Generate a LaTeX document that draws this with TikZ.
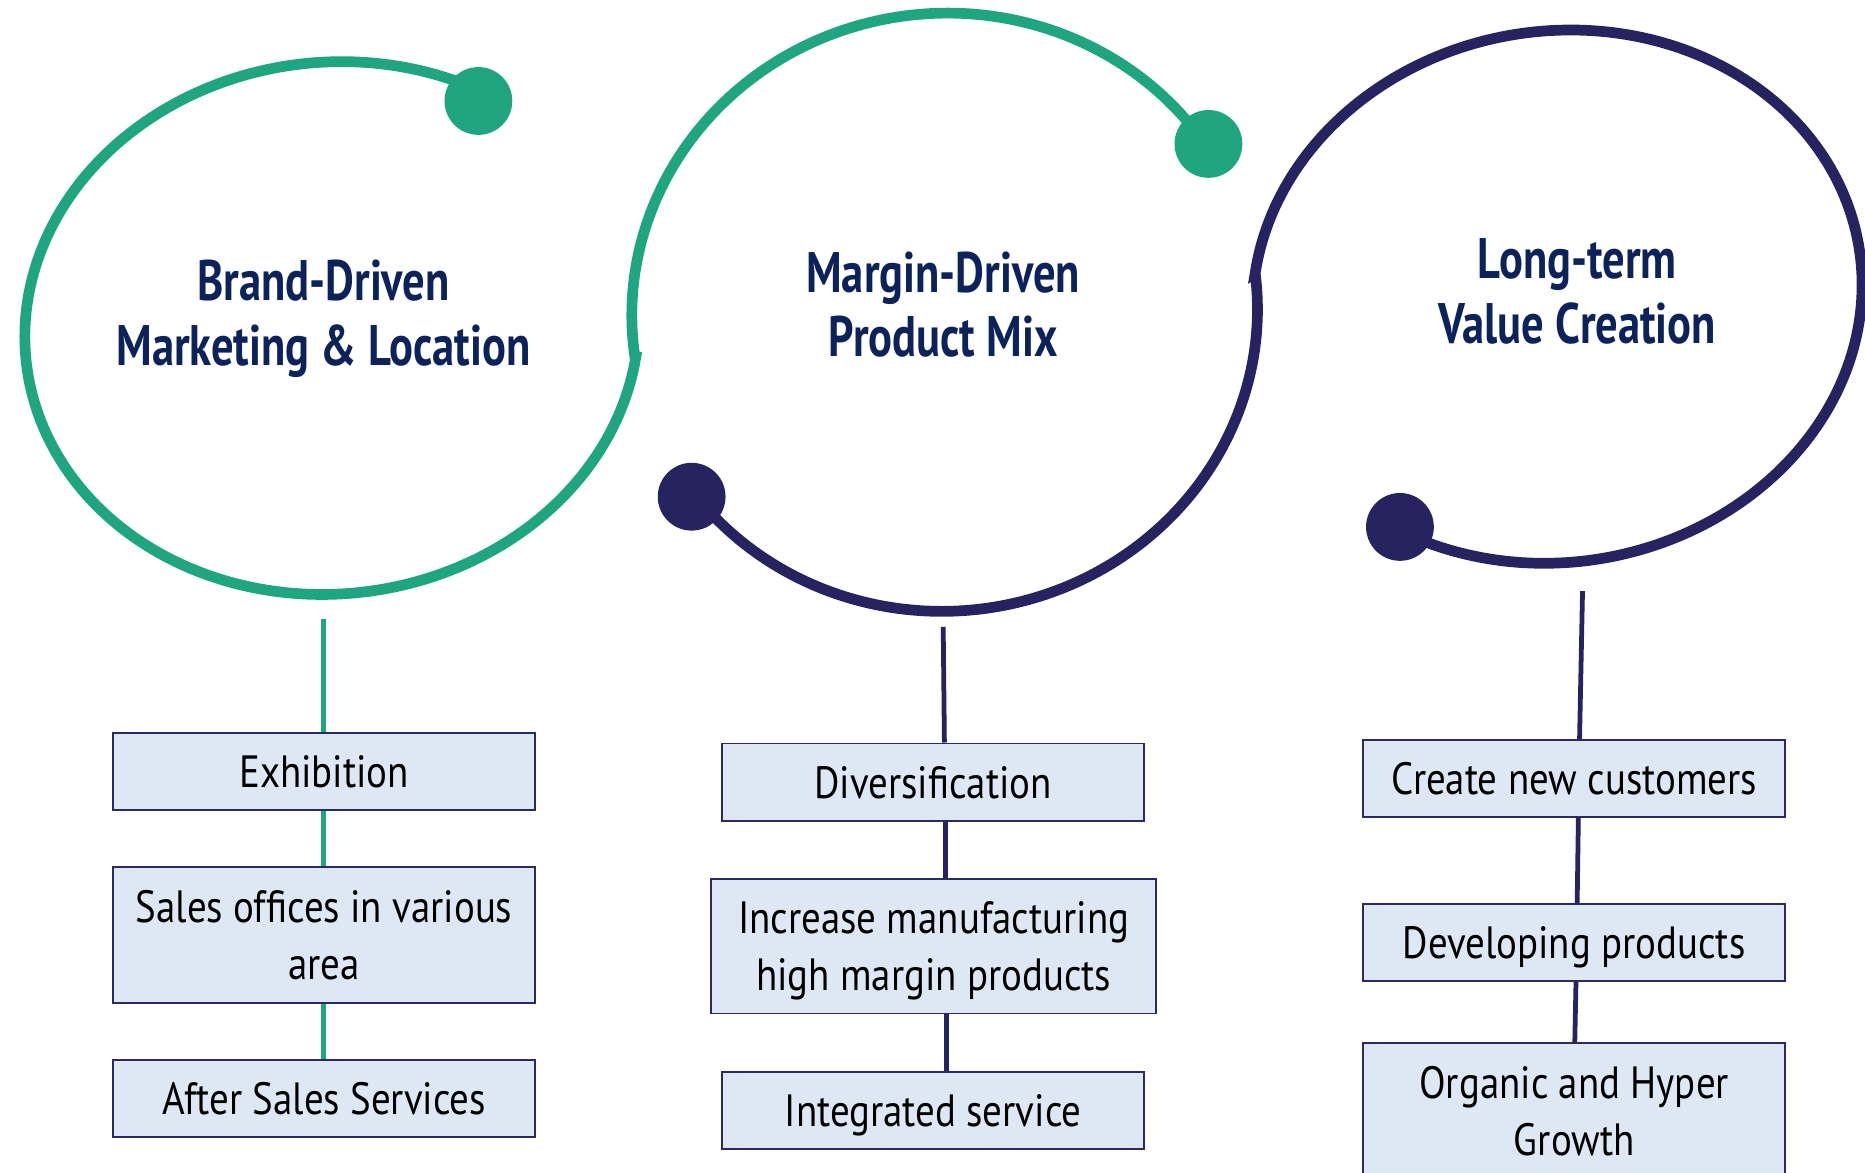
\documentclass[tikz,border=0pt]{standalone}
\usepackage{fontspec}
\setmainfont{PT Sans}[FakeStretch=0.86]
\newfontfamily\titlefont{PT Sans}[FakeStretch=0.78]
\definecolor{grn}{RGB}{31,165,128}
\definecolor{nvy}{RGB}{39,34,96}
\definecolor{ttl}{RGB}{12,34,90}
\definecolor{boxfill}{RGB}{222,232,245}
\definecolor{boxline}{RGB}{42,42,100}
\begin{document}
\begin{tikzpicture}[x=1pt,y=1pt,
  ring/.style={line width=9pt, line join=miter},
  blob/.style={radius=28.5pt},
  box/.style={draw=boxline, line width=1.5pt, fill=boxfill, minimum width=355pt,
    minimum height=65pt, align=center, inner sep=0pt, text=black, text depth=0pt,
    font=\fontsize{38}{48}\selectfont},
  title/.style={align=center, text=ttl, font=\titlefont\bfseries\fontsize{48}{54}\selectfont},
  link/.style={line width=4pt}]
\useasboundingbox (0,0) rectangle (1568,-986);
\clip (0,0) rectangle (1568,-986);
% green ring: circle 1 (most of it) then top of circle 2
\draw[ring,grn]
  plot[domain=60:353.8, samples=170, variable=\t]
    ({279+258*cos(\t)+8.29*sin(\t)}, {-275.8+224*sin(\t)})
  -- plot[domain=188.55:34.2, samples=170, variable=\t]
    ({794.2+263*cos(\t)+2.515*sin(\t)}, {-262.5+251.5*sin(\t)});
% navy ring: bottom of circle 2 then circle 3
\draw[ring,nvy]
  plot[domain=218:367.47, samples=170, variable=\t]
    ({794.2+263*cos(\t)+2.515*sin(\t)}, {-262.5+251.5*sin(\t)})
  -- plot[domain=174.99:-121, samples=220, variable=\t]
    ({1309.3+256*cos(\t)+11.21*sin(\t)}, {-249.4+224.2*sin(\t)});
% end dots
\fill[grn] (402.2,-84.9) coordinate (g1) circle[blob];
\fill[grn] (1016,-121) coordinate (g2) circle[blob];
\fill[nvy] (581.5,-417.6) coordinate (n1) circle[blob];
\fill[nvy] (1177,-443) coordinate (n2) circle[blob];
% titles
\node[title] (h1) at (272,-268) {Brand-Driven\\Marketing \& Location};
\node[title] (h2) at (793,-256) {Margin-Driven\\Product Mix};
\node[title] (h3) at (1326,-245) {Long-term\\Value Creation};
% boxes
\node[box] (b11) at (272.5,-648.5) {Exhibition};
\node[box, minimum height=114pt] (b12) at (272.5,-786) {Sales offices in various\\area};
\node[box] (b13) at (272.5,-923.5) {After Sales Services};
\node[box] (b21) at (784.5,-657.5) {Diversification};
\node[box, minimum width=374pt, minimum height=113pt] (b22) at (785,-795.5) {Increase manufacturing\\high margin products};
\node[box] (b23) at (784.5,-933.5) {Integrated service};
\node[box] (b31) at (1323.5,-654.5) {Create new customers};
\node[box] (b32) at (1323.5,-792.5) {Developing products};
\node[box, minimum height=114pt] (b33) at (1323.5,-934) {Organic and Hyper\\Growth};
% connectors
\coordinate (t1) at (272,-520);
\coordinate (t2) at (793,-527);
\coordinate (t3) at (1330.5,-497);
\draw[link,grn] (t1) -- (t1 |- b11.north);
\draw[link,grn] (b11.south -| t1) -- (b12.north -| t1);
\draw[link,grn] (b12.south -| t1) -- (b13.north -| t1);
\draw[link,nvy] (t2) -- ([xshift=1pt]t2 |- b21.north);
\draw[link,nvy] ([xshift=2pt]b21.south -| t2) -- ([xshift=2pt]b22.north -| t2);
\draw[link,nvy] ([xshift=3pt]b22.south -| t2) -- ([xshift=3pt]b23.north -| t2);
\draw[link,nvy] (t3) -- ([xshift=4.5pt]b31.north);
\draw[link,nvy] ([xshift=3.5pt]b31.south) -- ([xshift=2.5pt]b32.north);
\draw[link,nvy] ([xshift=1.5pt]b32.south) -- ([xshift=0.5pt]b33.north);
\end{tikzpicture}
\end{document}
